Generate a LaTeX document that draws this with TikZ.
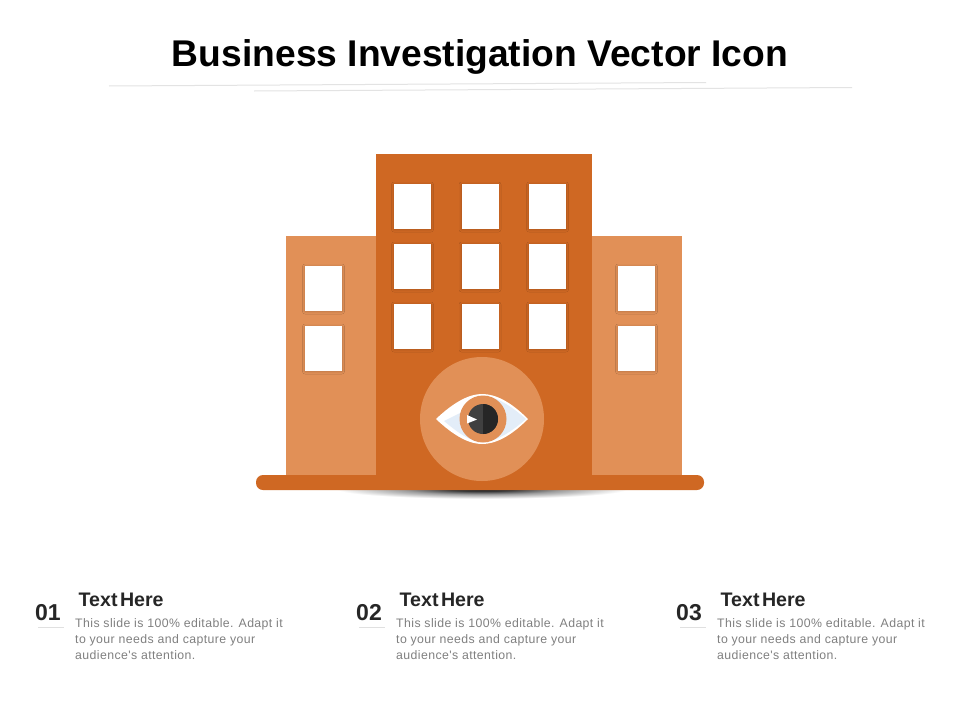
\documentclass[tikz,border=0pt]{standalone}
\usepackage{fontspec}
\setmainfont{Liberation Sans}
\newfontfamily\bodyfont[LetterSpace=3.3]{Liberation Sans}
\usetikzlibrary{shadows.blur}
\definecolor{darkor}{HTML}{CF6823}
\definecolor{lightor}{HTML}{E19057}
\definecolor{bodygray}{HTML}{808080}
\definecolor{inkdark}{HTML}{262626}
\definecolor{eyeblue}{HTML}{E3EDF8}
\pgfdeclareradialshading{gshadow}{\pgfpoint{0bp}{0bp}}{color(0bp)=(black!88); color(5bp)=(black!78); color(12bp)=(black!38); color(22bp)=(white); color(50bp)=(white)}
\tikzset{
  winbox/.style={fill=white,draw=none,blur shadow={shadow xshift=0pt,shadow yshift=-0.5pt,shadow blur radius=2.5pt,shadow opacity=20}},
  numlabel/.style={font=\bfseries\fontsize{23}{23}\selectfont,text=inkdark,anchor=base,inner sep=0pt},
  headlabel/.style={font=\bfseries\fontsize{19.6}{19.6}\selectfont,text=inkdark,anchor=base west,inner sep=0pt},
  bodylabel/.style={font=\bodyfont\fontsize{12.3}{16}\selectfont,text=bodygray,anchor=north west,align=left,inner sep=0pt},
  thinrule/.style={draw=black!11,line width=1pt}
}
\newcommand{\winrect}[2]{\path[winbox] (#1,#2) rectangle ++(37,45);}
\newcommand{\bodytext}{This slide is 100\% editable. Adapt it\\to your needs and capture your\\audience's attention.}
\begin{document}
\begin{tikzpicture}[x=1pt,y=-1pt]
\useasboundingbox (0,0) rectangle (960,720);
\fill[white] (0,0) rectangle (960,720);
% title
\node[font=\bfseries\fontsize{37.2}{37.2}\selectfont,text=black,anchor=base,inner sep=0pt] (title) at (480,66) {Business Investigation Vector Icon};
\draw[thinrule] (109,86) -- (706,82.5);
\draw[thinrule] (254,91) -- (852,87.5);
% ground shadow
\begin{scope}
\clip (256,489) rectangle (704,500);
\shade[shading=gshadow] (482,489) ellipse [x radius=165,y radius=11];
\end{scope}
% buildings
\fill[lightor] (285.5,236) rectangle (376,476);
\fill[lightor] (592,236) rectangle (682,476);
\fill[darkor] (376,154) rectangle (592,476);
\fill[darkor,rounded corners=7pt] (256,475) rectangle (704,490);
% windows
\winrect{394}{184}\winrect{461.5}{184}\winrect{529}{184}
\winrect{394}{244}\winrect{461.5}{244}\winrect{529}{244}
\winrect{394}{304}\winrect{461.5}{304}\winrect{529}{304}
\winrect{305}{266}\winrect{305}{326}
\winrect{618}{266}\winrect{618}{326}
% eye
\fill[lightor] (482,419) circle [radius=62];
\fill[white] (436,419) .. controls (455,401) and (470,394) .. (482,394) .. controls (495,394) and (510,401) .. (528,419) .. controls (510,437) and (495,444) .. (482,444) .. controls (470,444) and (455,437) .. (436,419) -- cycle;
\fill[eyeblue] (444,421) .. controls (456,431) and (470,442) .. (482,442) .. controls (495,442) and (510,433) .. (526,419) .. controls (510,405) and (495,396) .. (483,396) -- (470,408) -- cycle;
\fill[lightor] (483,419) circle [radius=23.5];
\fill[inkdark!88!white] (483,419) circle [radius=15];
\begin{scope}
\clip (483,404) rectangle (498,434);
\fill[inkdark] (483,419) circle [radius=15];
\end{scope}
\fill[white] (467,415) -- (477,419.5) -- (467,423.5) -- cycle;
% items
\foreach \nm/\numx/\offs in {01/48/0,02/369/321,03/689/642}{
  \node[numlabel] (num\nm) at (\numx,620) {\nm};
  \coordinate (ruleA\nm) at ({38+\offs},627.5);
  \coordinate (ruleB\nm) at ({64+\offs},627.5);
  \draw[draw=black!12,line width=0.7pt] (ruleA\nm) -- (ruleB\nm);
  \node[headlabel] (head\nm) at ({78.5+\offs},606.5) {\spaceskip=2.5pt Text Here};
  \node[bodylabel] (body\nm) at ({75+\offs},618.5) {\bodytext};
}
\end{tikzpicture}
\end{document}
